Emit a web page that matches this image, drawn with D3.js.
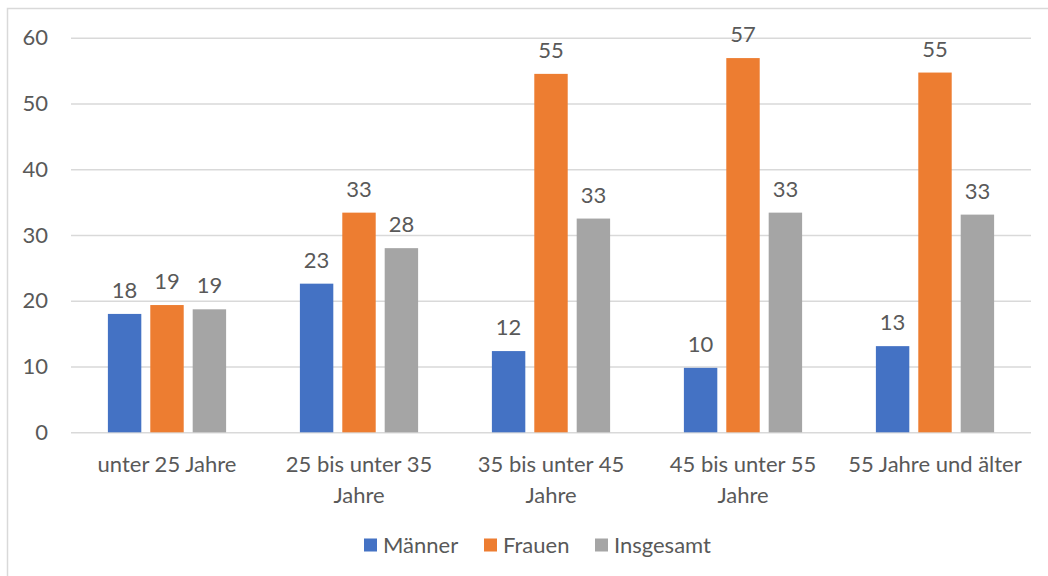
<!DOCTYPE html>
<html>
<head>
<meta charset="utf-8">
<script src="https://cdn.jsdelivr.net/npm/d3@7/dist/d3.min.js"></script>
<style>
  html, body { margin: 0; padding: 0; background: #fff; }
  svg { display: block; }
  text { font-family: Lato, "Open Sans", sans-serif; fill: #595959; }
</style>
</head>
<body>
<svg id="chart" width="1048" height="576"></svg>
<script>
const categories = ["unter 25 Jahre", "25 bis unter 35 Jahre", "35 bis unter 45 Jahre", "45 bis unter 55 Jahre", "55 Jahre und älter"];
const categoryLines = [["unter 25 Jahre"], ["25 bis unter 35", "Jahre"], ["35 bis unter 45", "Jahre"], ["45 bis unter 55", "Jahre"], ["55 Jahre und älter"]];
const seriesNames = ["Männer", "Frauen", "Insgesamt"];
const maenner = [18.0, 22.6, 12.35, 9.8, 13.1];
const frauen = [19.35, 33.4, 54.5, 56.9, 54.7];
const insgesamt = [18.7, 28.0, 32.5, 33.4, 33.1];
const yTicks = [0, 10, 20, 30, 40, 50, 60];
const colors = ["#4472C4", "#ED7D31", "#A5A5A5"];

const seriesValues = [maenner, frauen, insgesamt];
const svg = d3.select("#chart");
const fs = 22;

// chart border
svg.append("rect").attr("x", 7.5).attr("y", 8.5).attr("width", 1100).attr("height", 600)
  .attr("fill", "none").attr("stroke", "#D9D9D9").attr("stroke-width", 1.5);

const plotLeft = 71, plotRight = 1031, plotTop = 37.7, plotBottom = 432.3;
const y = d3.scaleLinear().domain([0, 60]).range([plotBottom, plotTop]);
const x0 = d3.scaleBand().domain(categories).range([plotLeft, plotRight]).padding(0);
const x1 = d3.scaleBand().domain(seriesNames).range([0, x0.bandwidth()]).paddingInner(0.212).paddingOuter(0.87);

// gridlines
const yAxis = d3.axisLeft(y).tickValues(yTicks).tickSize(-(plotRight - plotLeft)).tickPadding(23).tickFormat(d3.format("d"));
const gy = svg.append("g").attr("transform", `translate(${plotLeft},0)`).call(yAxis);
gy.select(".domain").remove();
gy.selectAll(".tick line").attr("stroke", "#D9D9D9").attr("stroke-width", 1.5);
gy.selectAll(".tick text").attr("font-size", fs).style("font-family", "Lato, sans-serif").attr("fill", "#595959");

// bars
const groups = svg.append("g").selectAll("g").data(categories).join("g")
  .attr("transform", d => `translate(${x0(d)},0)`);

groups.each(function(cat, ci) {
  const g = d3.select(this);
  seriesNames.forEach((s, si) => {
    const v = seriesValues[si][ci];
    g.append("rect")
      .attr("x", x1(s)).attr("width", x1.bandwidth())
      .attr("y", y(v)).attr("height", y(0) - y(v))
      .attr("fill", colors[si]);
    g.append("text")
      .attr("x", x1(s) + x1.bandwidth() / 2)
      .attr("y", y(v) - 16)
      .attr("text-anchor", "middle")
      .attr("font-size", fs)
      .text(Math.round(v));
  });
});

// x axis labels
const xl = svg.append("g");
categories.forEach((c, i) => {
  const t = xl.append("text").attr("text-anchor", "middle").attr("font-size", fs)
    .attr("x", x0(c) + x0.bandwidth() / 2).attr("y", 472);
  categoryLines[i].forEach((line, li) => {
    t.append("tspan").attr("x", x0(c) + x0.bandwidth() / 2).attr("dy", li === 0 ? 0 : 31).text(line);
  });
});

// legend
const legendX = [364, 484, 595];
seriesNames.forEach((s, i) => {
  svg.append("rect").attr("x", legendX[i]).attr("y", 538.5).attr("width", 13).attr("height", 13).attr("fill", colors[i]);
  svg.append("text").attr("x", legendX[i] + 19).attr("y", 553).attr("font-size", fs).text(s);
});
</script>
</body>
</html>
